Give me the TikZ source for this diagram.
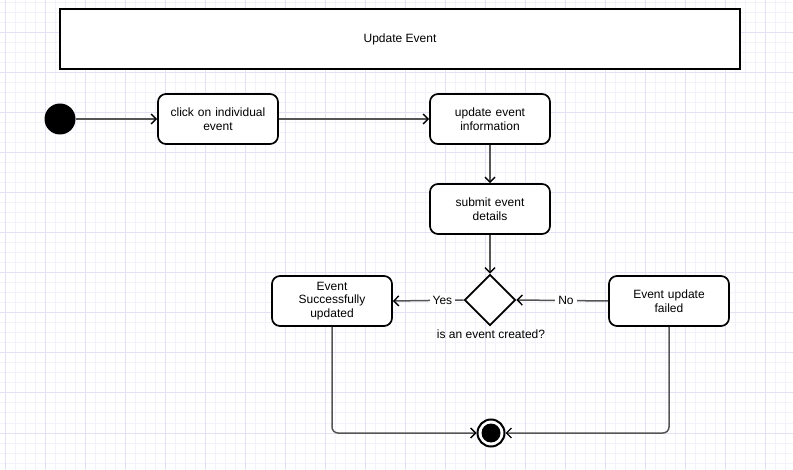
\documentclass[tikz,border=0pt]{standalone}
\usepackage{fontspec}
\setmainfont{Liberation Sans}
\usetikzlibrary{shapes.geometric, arrows.meta}
\definecolor{GridMinor}{HTML}{F3F1FA}
\definecolor{GridMajor}{HTML}{E5E1F4}
\definecolor{FlowGrey}{HTML}{555555}

\tikzset{
    action/.style={draw, line width=1.7pt, rounded corners=8pt, fill=white,
        minimum width=120pt, minimum height=50pt, text width=112pt, align=center,
        font=\fontsize{12}{13.5}\selectfont},
    flow/.style={draw=FlowGrey, line width=1.5pt, -{Straight Barb[length=5pt, width=10pt, line width=1.4pt, color=black]}},
    guard/.style={fill=white, inner sep=3pt, font=\fontsize{12}{14}\selectfont}
}

\begin{document}
\begin{tikzpicture}[x=1pt, y=-1pt]
        % Parameters
        \def\W{793}
        \def\H{470}
        \useasboundingbox (0,0) rectangle (\W,\H);

        % 1. Background grid
        \foreach \x in {5,15,...,785} {
            \draw[GridMinor, line width=1pt] (\x,0) -- (\x,\H);
        }
        \foreach \y in {3,13,...,463} {
            \draw[GridMinor, line width=1pt] (0,\y) -- (\W,\y);
        }
        \foreach \x in {5,45,...,785} {
            \draw[GridMajor, line width=1pt] (\x,0) -- (\x,\H);
        }
        \foreach \y in {33,73,...,433} {
            \draw[GridMajor, line width=1pt] (0,\y) -- (\W,\y);
        }

        % 2. Title bar
        \node[draw, line width=2.2pt, fill=white, minimum width=680pt, minimum height=60pt,
            font=\fontsize{12}{14}\selectfont] (title) at (400,39) {Update Event};

        % 3. Start and actions
        \node[circle, fill=black, minimum size=31pt, inner sep=0pt] (start) at (60,119) {};
        \node[action] (clickev) at (218,119) {click on individual\\event};
        \node[action] (updinfo) at (490,119) {update event\\information};
        \node[action] (submit) at (490,209) {submit event\\details};

        % 4. Decision
        \node[diamond, draw, line width=1.7pt, fill=white, aspect=1, minimum size=51pt, inner sep=0pt] (check) at (490,300) {};
        \node[font=\fontsize{12}{14}\selectfont] (checklbl) at (491,334) {is an event created?};

        \node[action] (success) at (332,301) {Event\\Successfully\\updated};
        \node[action] (failed) at (669,301) {Event update\\failed};

        % 5. Final state
        \node[circle, draw, line width=2pt, fill=white, minimum size=27pt, inner sep=0pt] (stop) at (491,433) {};
        \fill (stop) circle (9.5pt);

        % 6. Transitions
        \draw[flow] (start) -- (clickev);
        \draw[flow] (clickev) -- (updinfo);
        \draw[flow] (updinfo) -- (submit);
        \draw[flow] (submit) -- (check);
        \draw[flow] (check.west) -- (success.east) node[guard, pos=0.3] {Yes};
        \draw[flow] (failed.west) -- (check.east) node[guard, pos=0.46] {No};
        \draw[flow, rounded corners=6pt] (success.south) |- (stop.west);
        \draw[flow, rounded corners=6pt] (failed.south) |- (stop.east);

    \end{tikzpicture}
\end{document}
